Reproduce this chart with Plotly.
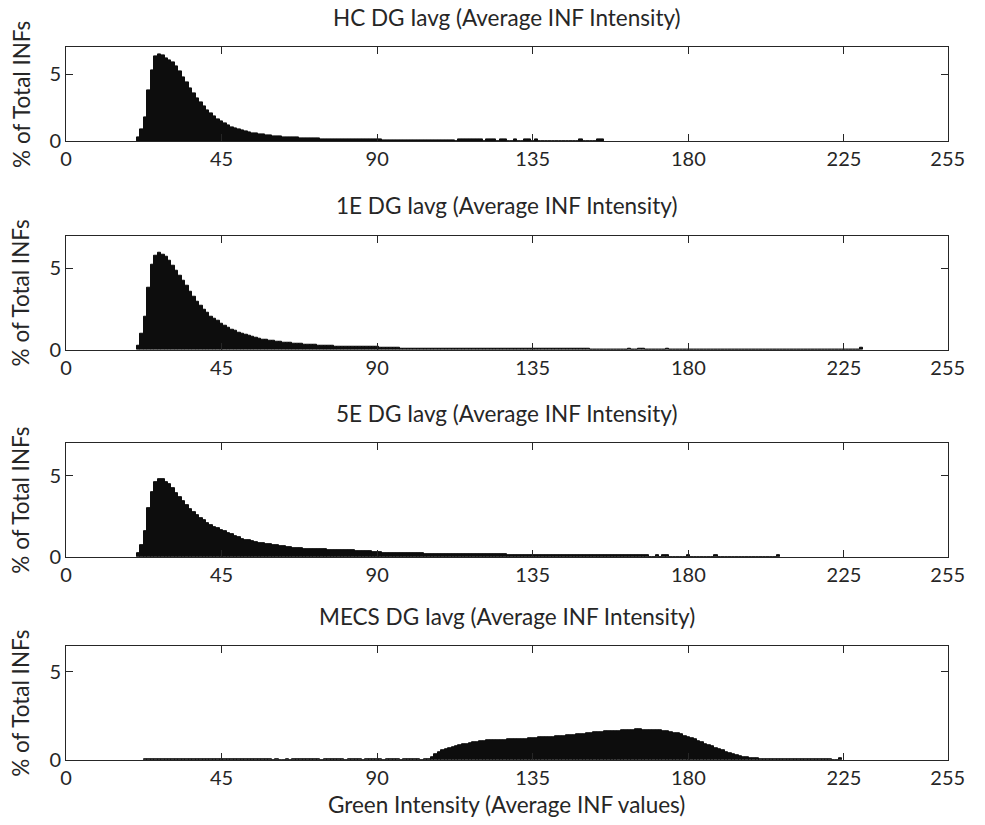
import plotly.graph_objects as go

# Histogram of average INF green intensity (1-unit bins), % of total INFs per bin.
hc_start = 21
hc_pct = [
    0.25, 0.9, 1.8, 3.75, 5.3, 6.35, 6.45, 6.4, 6.2, 6.0,            # 21-30
    5.85, 5.55, 5.2, 4.75, 4.35, 3.95, 3.55, 3.2, 2.85, 2.55,        # 31-40
    2.3, 2.05, 1.85, 1.65, 1.5, 1.35, 1.2, 1.05, 0.95, 0.85,         # 41-50
    0.78, 0.72, 0.66, 0.6, 0.55, 0.5, 0.47, 0.44, 0.42, 0.38,        # 51-60
    0.35, 0.32, 0.3, 0.28, 0.26, 0.25, 0.24, 0.22, 0.21, 0.2,        # 61-70
    0.19, 0.18, 0.16, 0.15, 0.15, 0.14, 0.13, 0.13, 0.12, 0.12,      # 71-80
    0.11, 0.11, 0.1, 0.1, 0.1, 0.1, 0.09, 0.09, 0.09, 0.09,          # 81-90
    0.09, 0.08, 0.08, 0.08, 0.08, 0.08, 0.08, 0.08, 0.08, 0.07,      # 91-100
    0.07, 0.07, 0.07, 0.07, 0.07, 0.07, 0.07, 0.07, 0.07, 0.07,      # 101-110
    0.07, 0.07, 0.0, 0.1, 0.1, 0.1, 0.1, 0.1, 0.1, 0.1,              # 111-120
    0.0, 0.1, 0.1, 0.1, 0.0, 0.1, 0.1, 0.0, 0.0, 0.1,                # 121-130
    0.0, 0.0, 0.1, 0.1, 0.0, 0.1, 0.0, 0.0, 0.0, 0.0,                # 131-140
    0.0, 0.0, 0.0, 0.0, 0.0, 0.0, 0.0, 0.0, 0.12, 0.0,               # 141-150
    0.0, 0.0, 0.0, 0.15, 0.15,                                       # 151-155
]

e1_start = 21
e1_pct = [
    0.25, 1.0, 2.0, 3.8, 5.2, 5.75, 5.95, 5.85, 5.7, 5.45,           # 21-30
    5.15, 4.85, 4.55, 4.25, 3.9, 3.55, 3.25, 2.95, 2.7, 2.45,        # 31-40
    2.25, 2.05, 1.9, 1.75, 1.6, 1.45, 1.35, 1.25, 1.15, 1.05,        # 41-50
    0.97, 0.9, 0.84, 0.78, 0.73, 0.68, 0.64, 0.6, 0.56, 0.53,        # 51-60
    0.5, 0.47, 0.45, 0.42, 0.4, 0.38, 0.36, 0.34, 0.32, 0.3,         # 61-70
    0.29, 0.28, 0.26, 0.25, 0.24, 0.23, 0.22, 0.21, 0.2, 0.2,        # 71-80
    0.19, 0.19, 0.18, 0.18, 0.17, 0.17, 0.16, 0.16, 0.15, 0.15,      # 81-90
    0.14, 0.14, 0.13, 0.13, 0.12, 0.12, 0.07, 0.07, 0.07, 0.07,      # 91-100
    0.07, 0.07, 0.07, 0.07, 0.07, 0.07, 0.07, 0.07, 0.07, 0.07,      # 101-110
    0.07, 0.07, 0.07, 0.07, 0.07, 0.07, 0.07, 0.07, 0.07, 0.07,      # 111-120
    0.07, 0.07, 0.07, 0.07, 0.07, 0.07, 0.07, 0.07, 0.07, 0.07,      # 121-130
    0.07, 0.07, 0.07, 0.07, 0.07, 0.07, 0.07, 0.07, 0.07, 0.07,      # 131-140
    0.07, 0.07, 0.07, 0.07, 0.07, 0.07, 0.07, 0.07, 0.07, 0.07,      # 141-150
    0.07, 0.0, 0.0, 0.0, 0.0, 0.0, 0.0, 0.0, 0.0, 0.0,               # 151-160
    0.0, 0.0, 0.08, 0.0, 0.0, 0.08, 0.08, 0.0, 0.0, 0.0,             # 161-170
    0.0, 0.0, 0.0, 0.08, 0.0, 0.0, 0.0, 0.0, 0.0, 0.0,               # 171-180
    0.0, 0.0, 0.0, 0.0, 0.0, 0.0, 0.0, 0.0, 0.0, 0.0,                # 181-190
    0.0, 0.0, 0.0, 0.0, 0.0, 0.0, 0.0, 0.0, 0.0, 0.0,                # 191-200
    0.0, 0.0, 0.0, 0.0, 0.0, 0.0, 0.0, 0.0, 0.0, 0.0,                # 201-210
    0.0, 0.0, 0.0, 0.0, 0.0, 0.0, 0.0, 0.0, 0.0, 0.0,                # 211-220
    0.0, 0.0, 0.0, 0.0, 0.0, 0.0, 0.0, 0.0, 0.0, 0.1,                # 221-230
]

e5_start = 21
e5_pct = [
    0.2, 0.7, 1.56, 3.0, 4.0, 4.6, 4.8, 4.78, 4.6, 4.45,             # 21-30
    4.2, 3.95, 3.7, 3.45, 3.2, 2.95, 2.75, 2.55, 2.4, 2.25,          # 31-40
    2.1, 1.95, 1.85, 1.75, 1.65, 1.55, 1.47, 1.38, 1.3, 1.2,         # 41-50
    1.1, 1.05, 1.0, 0.95, 0.9, 0.86, 0.82, 0.78, 0.75, 0.72,         # 51-60
    0.69, 0.66, 0.63, 0.6, 0.58, 0.56, 0.54, 0.52, 0.5, 0.49,        # 61-70
    0.48, 0.47, 0.46, 0.45, 0.44, 0.43, 0.42, 0.41, 0.4, 0.4,        # 71-80
    0.39, 0.38, 0.38, 0.37, 0.36, 0.35, 0.34, 0.33, 0.3, 0.28,       # 81-90
    0.3, 0.25, 0.24, 0.24, 0.23, 0.23, 0.22, 0.22, 0.22, 0.22,       # 91-100
    0.2, 0.2, 0.2, 0.19, 0.19, 0.19, 0.18, 0.18, 0.18, 0.17,         # 101-110
    0.17, 0.17, 0.16, 0.16, 0.16, 0.16, 0.15, 0.15, 0.15, 0.15,      # 111-120
    0.14, 0.14, 0.14, 0.14, 0.14, 0.14, 0.14, 0.13, 0.13, 0.13,      # 121-130
    0.13, 0.13, 0.13, 0.13, 0.13, 0.13, 0.13, 0.13, 0.13, 0.12,      # 131-140
    0.12, 0.12, 0.12, 0.12, 0.12, 0.12, 0.12, 0.12, 0.12, 0.12,      # 141-150
    0.12, 0.12, 0.12, 0.12, 0.12, 0.12, 0.12, 0.12, 0.12, 0.12,      # 151-160
    0.12, 0.12, 0.12, 0.12, 0.12, 0.12, 0.12, 0.12, 0.0, 0.0,        # 161-170
    0.12, 0.0, 0.12, 0.12, 0.0, 0.0, 0.0, 0.0, 0.0, 0.12,            # 171-180
    0.0, 0.0, 0.0, 0.0, 0.0, 0.0, 0.0, 0.12, 0.0, 0.0,               # 181-190
    0.0, 0.0, 0.0, 0.0, 0.0, 0.0, 0.0, 0.0, 0.0, 0.0,                # 191-200
    0.0, 0.0, 0.0, 0.0, 0.0, 0.12,                                   # 201-206
]

mecs_start = 23
mecs_pct = [
    0.05, 0.05, 0.05, 0.05, 0.05, 0.05, 0.05, 0.05,                  # 23-30
    0.05, 0.05, 0.05, 0.05, 0.05, 0.05, 0.05, 0.05, 0.05, 0.05,      # 31-40
    0.05, 0.05, 0.05, 0.05, 0.05, 0.05, 0.05, 0.05, 0.05, 0.05,      # 41-50
    0.05, 0.05, 0.05, 0.05, 0.05, 0.05, 0.05, 0.05, 0.05, 0.0,       # 51-60
    0.05, 0.0, 0.0, 0.05, 0.0, 0.05, 0.05, 0.05, 0.05, 0.05,         # 61-70
    0.05, 0.05, 0.05, 0.0, 0.05, 0.05, 0.05, 0.05, 0.05, 0.05,       # 71-80
    0.0, 0.05, 0.05, 0.05, 0.05, 0.0, 0.05, 0.05, 0.05, 0.05,        # 81-90
    0.05, 0.0, 0.05, 0.05, 0.05, 0.05, 0.0, 0.05, 0.05, 0.05,        # 91-100
    0.05, 0.05, 0.0, 0.05, 0.05, 0.15, 0.3, 0.45, 0.55, 0.62,        # 101-110
    0.66, 0.72, 0.78, 0.82, 0.86, 0.9, 0.95, 1.0, 1.02, 1.05,        # 111-120
    1.06, 1.08, 1.1, 1.1, 1.12, 1.12, 1.13, 1.14, 1.15, 1.16,        # 121-130
    1.17, 1.18, 1.19, 1.2, 1.22, 1.24, 1.25, 1.26, 1.27, 1.28,       # 131-140
    1.3, 1.32, 1.34, 1.36, 1.37, 1.38, 1.4, 1.42, 1.44, 1.47,        # 141-150
    1.5, 1.52, 1.54, 1.56, 1.58, 1.6, 1.6, 1.62, 1.63, 1.64,         # 151-160
    1.66, 1.68, 1.7, 1.7, 1.72, 1.72, 1.7, 1.7, 1.7, 1.68,           # 161-170
    1.68, 1.66, 1.62, 1.6, 1.56, 1.52, 1.48, 1.42, 1.36, 1.3,        # 171-180
    1.22, 1.14, 1.05, 0.98, 0.9, 0.82, 0.75, 0.68, 0.6, 0.52,        # 181-190
    0.45, 0.38, 0.3, 0.24, 0.2, 0.15, 0.12, 0.1, 0.08, 0.07,         # 191-200
    0.05, 0.05, 0.05, 0.05, 0.05, 0.05, 0.05, 0.05, 0.05, 0.05,      # 201-210
    0.05, 0.05, 0.05, 0.05, 0.05, 0.05, 0.05, 0.05, 0.05, 0.05,      # 211-220
    0.05, 0.0, 0.0, 0.1,                                             # 221-224
]

panel_titles = [
    "HC DG Iavg (Average INF Intensity)",
    "1E DG Iavg (Average INF Intensity)",
    "5E DG Iavg (Average INF Intensity)",
    "MECS DG Iavg (Average INF Intensity)",
]
series = [(hc_start, hc_pct), (e1_start, e1_pct), (e5_start, e5_pct), (mecs_start, mecs_pct)]
y_max = [7, 7, 7, 6.44]

x_ticks = [0, 45, 90, 135, 180, 225, 255]
y_ticks = [0, 5]
x_label = "Green Intensity (Average INF values)"
y_label = "% of Total INFs"

# layout positions are given in view pixels (985x825); these constants map
# view pixels to the figure's own pixel units
SCALE_X, OFFSET_X = 0.977, 7.3
SCALE_Y = 0.985
W, H = 1000, round(825 / SCALE_Y)
FONT = "Lato"
AX = "#262626"
BAR = "#0d0d0d"
TXT = 22.5
TICK = 20


def fx(px):
    return ((px - OFFSET_X) / SCALE_X) / W


def fy(py):
    return 1 - (py / SCALE_Y) / H


# view-pixel boxes of the four axes (top, bottom); shared left/right edges
x_left, x_right = 67.3, 949.0
boxes = [(47.3, 140.7), (235.3, 349.0), (442.3, 555.7), (645.0, 758.3)]

fig = go.Figure()
layout = dict(
    width=W, height=H,
    margin=dict(l=0, r=0, t=0, b=0),
    paper_bgcolor="white", plot_bgcolor="white",
    showlegend=False, bargap=0,
    font=dict(family=FONT, size=TICK, color=AX),
)
annotations = []
for i, ((start, vals), (top, bot)) in enumerate(zip(series, boxes)):
    n = i + 1
    sfx = str(n) if n > 1 else ""
    xs = [start + k for k in range(len(vals))]
    fig.add_trace(go.Bar(
        x=xs, y=vals, width=1.0,
        marker=dict(color=BAR, line=dict(color=BAR, width=1.0)),
        xaxis="x" + sfx, yaxis="y" + sfx,
        hoverinfo="skip",
    ))
    axis_common = dict(
        showline=True, linecolor=AX, linewidth=1, mirror="allticks",
        ticks="inside", ticklen=7, tickcolor=AX, tickwidth=1,
        showgrid=False, zeroline=False,
        tickfont=dict(family=FONT, size=TICK, color=AX),
    )
    layout["xaxis" + sfx] = dict(
        axis_common,
        domain=[fx(x_left), fx(x_right)], range=[0, 255],
        tickmode="array", tickvals=x_ticks, ticktext=[str(t) for t in x_ticks],
        anchor="y" + sfx,
    )
    layout["yaxis" + sfx] = dict(
        axis_common,
        domain=[fy(bot), fy(top)], range=[0, y_max[i]],
        tickmode="array", tickvals=y_ticks, ticktext=[str(t) for t in y_ticks],
        anchor="x" + sfx,
    )
    annotations.append(dict(
        text=panel_titles[i], xref="paper", yref="paper",
        x=fx((x_left + x_right) / 2), y=fy(top - 30),
        xanchor="center", yanchor="middle", showarrow=False,
        font=dict(family=FONT, size=TXT, color=AX),
    ))
    annotations.append(dict(
        text=y_label, xref="paper", yref="paper",
        x=fx(22), y=fy((top + bot) / 2), textangle=-90,
        xanchor="center", yanchor="middle", showarrow=False,
        font=dict(family=FONT, size=TXT, color=AX),
    ))

annotations.append(dict(
    text=x_label, xref="paper", yref="paper",
    x=fx((x_left + x_right) / 2), y=fy(803),
    xanchor="center", yanchor="middle", showarrow=False,
    font=dict(family=FONT, size=TXT, color=AX),
))
layout["annotations"] = annotations
fig.update_layout(**layout)
fig.write_html("out.html")
